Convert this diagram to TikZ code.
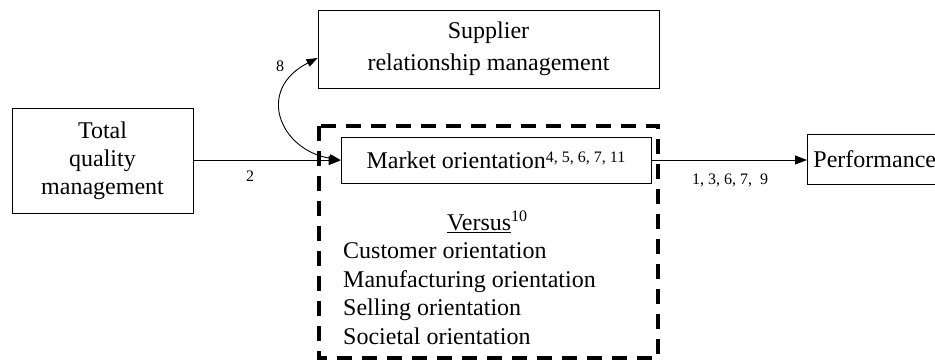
\documentclass[tikz,border=0pt]{standalone}
\usepackage{fontspec}
\setmainfont{Liberation Serif}
\usetikzlibrary{arrows.meta}
\begin{document}
\begin{tikzpicture}[x=1pt,y=-1pt,
  box/.style={draw, line width=0.9pt, inner sep=0pt, align=center, font=\fontsize{24}{28}\selectfont},
  conn/.style={line width=0.9pt, -{Triangle[length=12pt,width=9pt]}},
  lbl/.style={font=\fontsize{16}{16}\selectfont, inner sep=0pt},
  txt/.style={font=\fontsize{24}{28}\selectfont, inner sep=0pt, anchor=base west},
  sup/.style={}
]
\useasboundingbox (0,0) rectangle (935,362);
\draw[line width=4pt, dash pattern=on 15pt off 10pt] (319,126) rectangle (658,358);

\node[box, minimum width=181pt, minimum height=105pt] (tqm) at (102.5,160.5) {Total\\quality\\management};
\node[box, minimum width=341pt, minimum height=78pt] (supplier) at (488.5,49) {Supplier\\[4pt]relationship management};
\node[box, minimum width=310pt, minimum height=46pt, fill=white] (market) at (496,160) {Market orientation\raisebox{6pt}{\fontsize{16}{16}\selectfont 4, 5, 6, 7, 11}};
\node[box, anchor=west, minimum height=50pt, inner xsep=6pt, text width=140pt, align=left] (perf) at (807,159) {Performance};

\draw[conn] (tqm.east) -- (tqm.east -| market.west);
\draw[conn] (market.east) -- (market.east -| perf.west);
\draw[line width=0.9pt, {Triangle[length=11pt,width=8pt]}-{Triangle[length=11pt,width=8pt]}]
  ([yshift=-9pt]supplier.west) .. controls (255,90) and (280,150) .. (market.west);

\node[lbl] (l2) at (250,176) {2};
\node[lbl] (l8) at (280,66) {8};
\node[lbl] (lperf) at (730,180) {1, 3, 6, 7,\ \ 9};

\node[txt] (versus) at (447,230) {\underline{Versus}\raisebox{9pt}{\fontsize{16}{16}\selectfont 10}};
\node[txt] (o1) at (343,258) {Customer orientation};
\node[txt] (o2) at (343,287) {Manufacturing orientation};
\node[txt] (o3) at (343,315) {Selling orientation};
\node[txt] (o4) at (343,344) {Societal orientation};
\end{tikzpicture}
\end{document}
